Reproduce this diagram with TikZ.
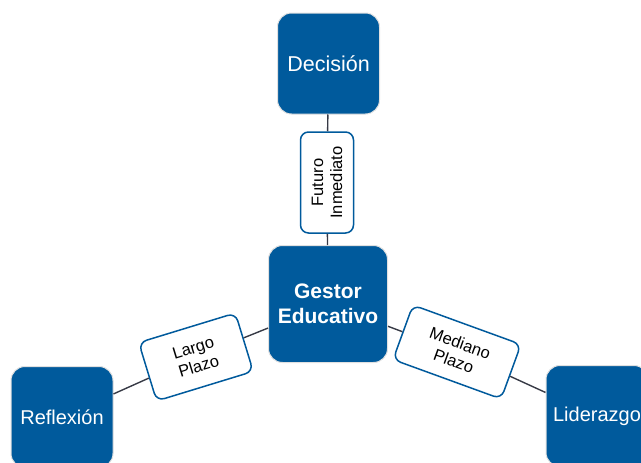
\documentclass[tikz,border=0pt]{standalone}
\usepackage{fontspec}
\setmainfont{Liberation Sans}
\definecolor{boxblue}{RGB}{0,90,156}
\definecolor{linkgray}{RGB}{55,58,70}
\begin{document}
\begin{tikzpicture}[x=1pt,y=-1pt,
  topic/.style={fill=boxblue, draw=black!12, line width=1pt, rounded corners=14pt,
    text=white, align=center, inner sep=0pt, minimum width=102pt, minimum height=101pt,
    font=\fontsize{20}{24}\selectfont},
  hub/.style={topic, minimum width=119pt, minimum height=117pt,
    font=\fontsize{21}{25}\selectfont\bfseries},
  horizon/.style={fill=white, draw=boxblue, line width=1.5pt, rounded corners=8pt,
    align=center, inner sep=0pt, font=\fontsize{16.5}{19}\selectfont},
  link/.style={draw=linkgray, line width=1.4pt}]
\useasboundingbox (0,0) rectangle (641,463);

% main topics
\node[hub]   (gestor)    at (328,304) {Gestor\\Educativo};
\node[topic, font=\fontsize{21.5}{25}\selectfont] (decision) at (328.5,63.5) {Decisión};
\node[topic] (reflexion) at (62,417) {Reflexión};
\node[topic] (liderazgo) at (597,416) {Liderazgo};

% time horizons on the links
\node[horizon, minimum width=101pt, minimum height=53pt, rotate=90]  (futuro)  at (327,182.5) {Futuro\\Inmediato};
\node[horizon, minimum width=101pt, minimum height=61pt, rotate=17]  (largo)   at (196,357) {Largo\\Plazo};
\node[horizon, minimum width=115pt, minimum height=58pt, rotate=-20] (mediano) at (457,352) {Mediano\\Plazo};

% connectors
\draw[link] (decision) -- (futuro);
\draw[link] (futuro) -- (gestor);
\draw[link] (gestor) -- (largo);
\draw[link] (largo) -- (reflexion);
\draw[link] (gestor) -- (mediano);
\draw[link] (mediano) -- (liderazgo);
\end{tikzpicture}
\end{document}
